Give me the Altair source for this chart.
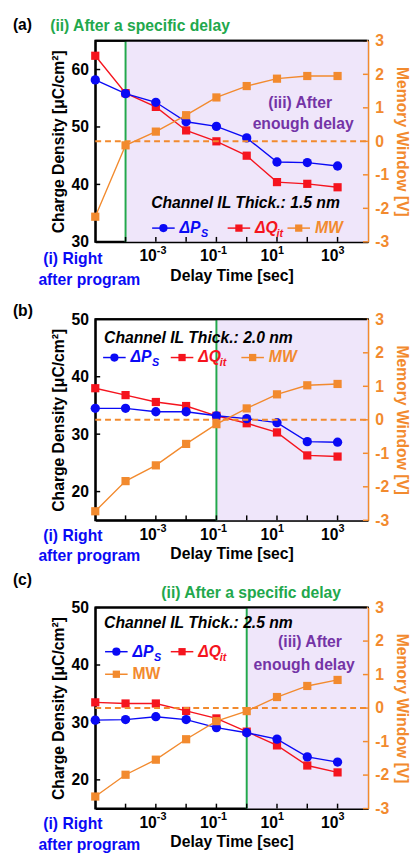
import altair as alt
import pandas as pd

# ---------------- data ----------------
delay = [1e-5, 1e-4, 1e-3, 1e-2, 1e-1, 1, 10, 100, 1000]

ps_a = [58.2, 55.8, 54.3, 50.9, 50.1, 48.1, 43.9, 43.8, 43.2]
qit_a = [62.4, 55.9, 53.5, 49.4, 47.5, 45.0, 40.4, 40.1, 39.5]
mw_a = [-2.25, -0.12, 0.29, 0.78, 1.31, 1.65, 1.87, 1.95, 1.95]

ps_b = [34.5, 34.5, 33.9, 33.9, 33.2, 32.7, 32.0, 28.7, 28.6]
qit_b = [38.0, 36.8, 35.6, 34.9, 33.2, 31.9, 30.3, 26.3, 26.1]
mw_b = [-2.73, -1.83, -1.36, -0.72, -0.13, 0.34, 0.76, 1.03, 1.07]

ps_c = [30.4, 30.5, 31.0, 30.5, 29.1, 28.2, 27.1, 24.0, 23.1]
qit_c = [33.5, 33.3, 33.3, 32.0, 30.7, 28.4, 26.0, 22.5, 21.3]
mw_c = [-2.64, -1.99, -1.54, -0.93, -0.39, -0.09, 0.33, 0.66, 0.84]

panel_tags = ["(a)", "(b)", "(c)"]
thickness = ["1.5", "2.0", "2.5"]
specific_delay = [1e-4, 1e-1, 1]
left_domains = [[30, 65], [15, 50], [15, 50]]
left_ticks = [[30, 40, 50, 60], [20, 30, 40, 50], [20, 30, 40, 50]]
right_ticks = [-3, -2, -1, 0, 1, 2, 3]
x_domain = [1e-5, 1e4]
x_decades = [1e-4, 1e-3, 1e-2, 1e-1, 1, 10, 100, 1000]
x_labeled = [1e-3, 1e-1, 10, 1000]
x_label_base = ["10", "10", "10", "10"]
x_label_exp = ["-3", "-1", "1", "3"]
mw_zero = [0]

# ---------------- style ----------------
FONT = "Liberation Sans"
W, H = 278, 205
BLUE = "#0A0AF5"
RED = "#F5141E"
ORANGE = "#F28A2E"
GREEN = "#22A84C"
PURPLE = "#7434A6"
SHADE = "#EFE6FA"


def xenc(field):
    return alt.X(field, type="quantitative",
                 scale=alt.Scale(type="log", domain=x_domain),
                 axis=alt.Axis(values=x_labeled, labels=False, title="Delay Time [sec]",
                               ticks=False, domainColor="black", domainWidth=2, grid=False,
                               titleFont=FONT, titleFontSize=16, titleFontWeight="bold",
                               titleColor="black", titlePadding=26))


def one():
    return alt.Chart(pd.DataFrame({"k": [0]}))


def txt(t, x, y, color="black", size=16, italic=False, align="left"):
    return alt.Chart(pd.DataFrame({"t": [t]})).mark_text(
        align=align, baseline="middle", font=FONT, fontSize=size, fontWeight="bold",
        fontStyle="italic" if italic else "normal", color=color
    ).encode(x=alt.value(x), y=alt.value(y), text="t:N")


def seg(x1, x2, y, color):
    return one().mark_rule(color=color, strokeWidth=1.5).encode(
        x=alt.value(x1), x2=alt.value(x2), y=alt.value(y))


def sym(x, y, shape, color, size):
    return one().mark_point(shape=shape, filled=True, color=color, size=size, opacity=1).encode(
        x=alt.value(x), y=alt.value(y))


def legend_item(x1, y, shape, color, size, label, sub, italic=True):
    items = [seg(x1, x1 + 23, y, color), sym(x1 + 11.5, y, shape, color, size),
             txt(label, x1 + 28, y, color=color, italic=italic)]
    if sub:
        items.append(txt(sub, x1 + 28 + len(label) * 11.2 - 0.5, y + 6, color=color, size=11, italic=True))
    return items


def panel(i, ps, qit, mw, annotations):
    df = pd.DataFrame({"delay": delay, "ps": ps, "qit": qit, "mw": mw})
    ydom = left_domains[i]
    yl = alt.Scale(domain=ydom, nice=False, zero=False)
    yr = alt.Scale(domain=[-3, 3], nice=False, zero=False)

    bg = alt.Chart(pd.DataFrame({"s": [specific_delay[i]], "e": [x_domain[1]]})).mark_rect(
        color=SHADE).encode(x=xenc("s"), x2="e", y=alt.value(0), y2=alt.value(H))
    green = alt.Chart(pd.DataFrame({"s": [specific_delay[i]]})).mark_rule(
        color=GREEN, strokeWidth=2).encode(x=xenc("s"), y=alt.value(0), y2=alt.value(H))
    xt = alt.Chart(pd.DataFrame({"v": x_decades})).mark_rule(color="black", strokeWidth=1.5).encode(
        x=xenc("v"), y=alt.value(H - 5), y2=alt.value(H))
    lab_df = pd.DataFrame({"v": x_labeled, "b": x_label_base, "e": x_label_exp})
    xlab_base = alt.Chart(lab_df).mark_text(
        align="right", baseline="middle", dx=1, font=FONT, fontSize=16, fontWeight="bold",
        color="black").encode(x=xenc("v"), y=alt.value(H + 15), text="b:N")
    xlab_exp = alt.Chart(lab_df).mark_text(
        align="left", baseline="middle", dx=1, font=FONT, fontSize=11, fontWeight="bold",
        color="black").encode(x=xenc("v"), y=alt.value(H + 9), text="e:N")

    yaxis_l = alt.Axis(values=left_ticks[i], ticks=False, grid=False, domainColor="black", domainWidth=2,
                       title="Charge Density [μC/cm²]", labelFont=FONT, labelFontSize=16,
                       labelFontWeight="bold", labelColor="black", labelPadding=7,
                       titleFont=FONT, titleFontSize=16, titleFontWeight="bold",
                       titleColor="black", titlePadding=5)
    lt = alt.Chart(pd.DataFrame({"v": left_ticks[i]})).mark_rule(color="black", strokeWidth=1.5).encode(
        y=alt.Y("v:Q", scale=yl, axis=yaxis_l), x=alt.value(0), x2=alt.value(5))
    ps_line = alt.Chart(df).mark_line(color=BLUE, strokeWidth=1.4).encode(
        x=xenc("delay"), y=alt.Y("ps:Q", scale=yl, axis=yaxis_l))
    ps_pts = alt.Chart(df).mark_point(shape="circle", filled=True, color=BLUE, size=90, opacity=1).encode(
        x=xenc("delay"), y=alt.Y("ps:Q", scale=yl, axis=yaxis_l))
    q_line = alt.Chart(df).mark_line(color=RED, strokeWidth=1.4).encode(
        x=xenc("delay"), y=alt.Y("qit:Q", scale=yl, axis=yaxis_l))
    q_pts = alt.Chart(df).mark_point(shape="square", filled=True, color=RED, size=70, opacity=1).encode(
        x=xenc("delay"), y=alt.Y("qit:Q", scale=yl, axis=yaxis_l))
    left = alt.layer(bg, green, xt, xlab_base, xlab_exp, lt, q_line, ps_line, q_pts, ps_pts)

    yaxis_r = alt.Axis(values=right_ticks, orient="right", ticks=False, grid=False,
                       domainColor=ORANGE, domainWidth=2, labelExpr="datum.value + ''",
                       title="Memory Window [V]", labelFont=FONT, labelFontSize=16,
                       labelFontWeight="bold", labelColor=ORANGE, labelPadding=7,
                       titleFont=FONT, titleFontSize=16, titleFontWeight="bold",
                       titleColor=ORANGE, titlePadding=5)
    rt = alt.Chart(pd.DataFrame({"v": right_ticks})).mark_rule(color=ORANGE, strokeWidth=1.5).encode(
        y=alt.Y("v:Q", scale=yr, axis=yaxis_r), x=alt.value(W - 5), x2=alt.value(W))
    zero = alt.Chart(pd.DataFrame({"z": mw_zero})).mark_rule(
        color=ORANGE, strokeWidth=2, strokeDash=[6, 4]).encode(
        y=alt.Y("z:Q", scale=yr, axis=yaxis_r), x=alt.value(0), x2=alt.value(W))
    mw_line = alt.Chart(df).mark_line(color=ORANGE, strokeWidth=1.4).encode(
        x=xenc("delay"), y=alt.Y("mw:Q", scale=yr, axis=yaxis_r))
    mw_pts = alt.Chart(df).mark_point(shape="square", filled=True, color=ORANGE, size=70, opacity=1).encode(
        x=xenc("delay"), y=alt.Y("mw:Q", scale=yr, axis=yaxis_r))
    top_border = seg(0, W - 1, 0, "black").mark_rule(color="black", strokeWidth=2)
    right = alt.layer(rt, zero, mw_line, mw_pts, top_border, *annotations)

    return alt.layer(left, right).resolve_scale(y="independent").properties(width=W, height=H)


common = lambda dy=0: [txt("(i) Right", -53, 221 + dy, color=BLUE),
                       txt("after program", -58, 242 + dy, color=BLUE)]

ann_a = [txt(panel_tags[0], -84, -16),
         txt("(ii) After a specific delay", -46, -15, color=GREEN),
         txt("(iii) After", 209, 64, color=PURPLE, align="center"),
         txt("enough delay", 212, 85, color=PURPLE, align="center"),
         txt("Channel IL Thick.: " + thickness[0] + " nm", 57, 166, italic=True),
         *legend_item(58, 191, "circle", BLUE, 70, "ΔP", "S"),
         *legend_item(135, 191, "square", RED, 55, "ΔQ", "it"),
         *legend_item(196, 191, "square", ORANGE, 55, "MW", None),
         *common(2)]

ann_b = [txt(panel_tags[1], -84, -8),
         txt("Channel IL Thick.: " + thickness[1] + " nm", 9, 19, italic=True),
         *legend_item(8, 39, "circle", BLUE, 70, "ΔP", "S"),
         *legend_item(77, 39, "square", RED, 55, "ΔQ", "it"),
         *legend_item(149, 39, "square", ORANGE, 55, "MW", None),
         *common()]

ann_c = [txt(panel_tags[2], -84, -28),
         txt("(ii) After a specific delay", 159, -15, color=GREEN, align="center"),
         txt("(iii) After", 219, 35, color=PURPLE, align="center"),
         txt("enough delay", 213, 59, color=PURPLE, align="center"),
         txt("Channel IL Thick.: " + thickness[2] + " nm", 9, 16, italic=True),
         *legend_item(10, 45, "circle", BLUE, 70, "ΔP", "S"),
         *legend_item(77, 45, "square", RED, 55, "ΔQ", "it"),
         *legend_item(10, 68, "square", ORANGE, 55, "MW", None, italic=False),
         *common()]

pa = panel(0, ps_a, qit_a, mw_a, ann_a)
pb = panel(1, ps_b, qit_b, mw_b, ann_b)
pc = panel(2, ps_c, qit_c, mw_c, ann_c)

inner = alt.vconcat(pb, pc, spacing=89, bounds="flush").resolve_scale(y="independent", x="independent")
chart = alt.vconcat(pa, inner, spacing=79, bounds="flush").resolve_scale(
    y="independent", x="independent").properties(
    padding={"left": 4, "top": 0, "right": 0, "bottom": 0}
).configure_view(stroke="black", strokeWidth=2)

chart.save("out.html", embed_options={"renderer": "svg", "actions": False})
